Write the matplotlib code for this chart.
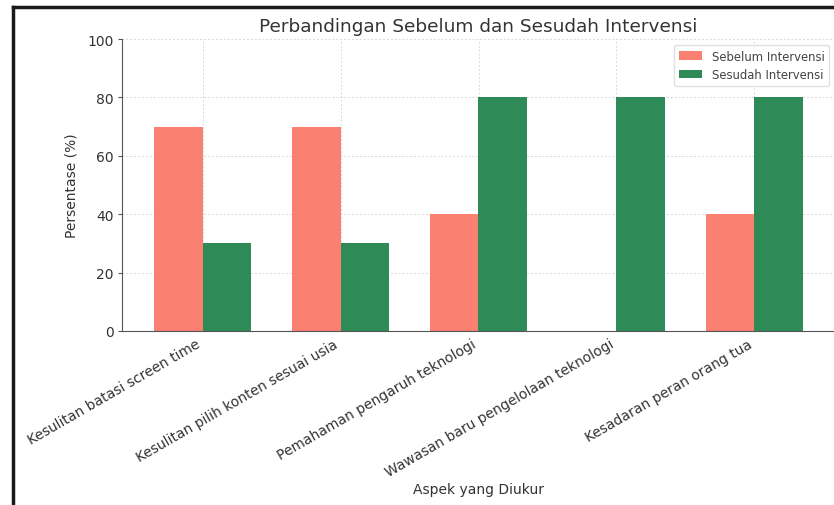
import matplotlib
matplotlib.use("Agg")
import matplotlib.pyplot as plt
from matplotlib.lines import Line2D
import numpy as np

categories = [
    "Kesulitan batasi screen time",
    "Kesulitan pilih konten sesuai usia",
    "Pemahaman pengaruh teknologi",
    "Wawasan baru pengelolaan teknologi",
    "Kesadaran peran orang tua",
]
sebelum = [70, 70, 40, 0, 40]
sesudah = [30, 30, 80, 80, 80]
series_labels = ["Sebelum Intervensi", "Sesudah Intervensi"]

fig = plt.figure(figsize=(8.34, 5.06), dpi=100)
ax = fig.add_axes([122 / 834, (506 - 332) / 506, 713 / 834, 292 / 506])

x = np.arange(len(categories))
w = 0.35
ax.bar(x - w / 2, sebelum, w, color="salmon", label=series_labels[0], zorder=2)
ax.bar(x + w / 2, sesudah, w, color="seagreen", label=series_labels[1], zorder=2)

ax.set_ylim(0, 100)
ax.set_xticks(x)
ax.set_xticklabels(categories, rotation=30, ha="right", fontsize=10, color="#333333")
ax.tick_params(axis="y", labelsize=10, labelcolor="#333333", length=3, color="#555555", pad=3)
ax.tick_params(axis="x", length=0, pad=4)
ax.grid(True, linestyle=(0, (2, 2)), color="#d0d0d0", linewidth=0.7, alpha=0.8, zorder=0)

for s in ["top", "right"]:
    ax.spines[s].set_visible(False)
for s in ["left", "bottom"]:
    ax.spines[s].set_color("#555555")

ax.set_title("Perbandingan Sebelum dan Sesudah Intervensi", fontsize=13.3, color="#333333", pad=6)
ax.set_xlabel("Aspek yang Diukur", fontsize=10, color="#333333", labelpad=2)
ax.set_ylabel("Persentase (%)", fontsize=10, color="#333333", labelpad=6)
ax.legend(loc="upper right", fontsize=8.4, framealpha=0.9, edgecolor="#dddddd",
          labelcolor="#444444")

# screenshot frame lines
fig.add_artist(Line2D([13 / 834, 13 / 834], [0, 1 - 8 / 506], transform=fig.transFigure,
                      color="#1a1a1a", lw=2.5))
fig.add_artist(Line2D([13 / 834, 1], [1 - 8 / 506, 1 - 8 / 506], transform=fig.transFigure,
                      color="#1a1a1a", lw=2.5))

fig.savefig("out.png", dpi=100)
